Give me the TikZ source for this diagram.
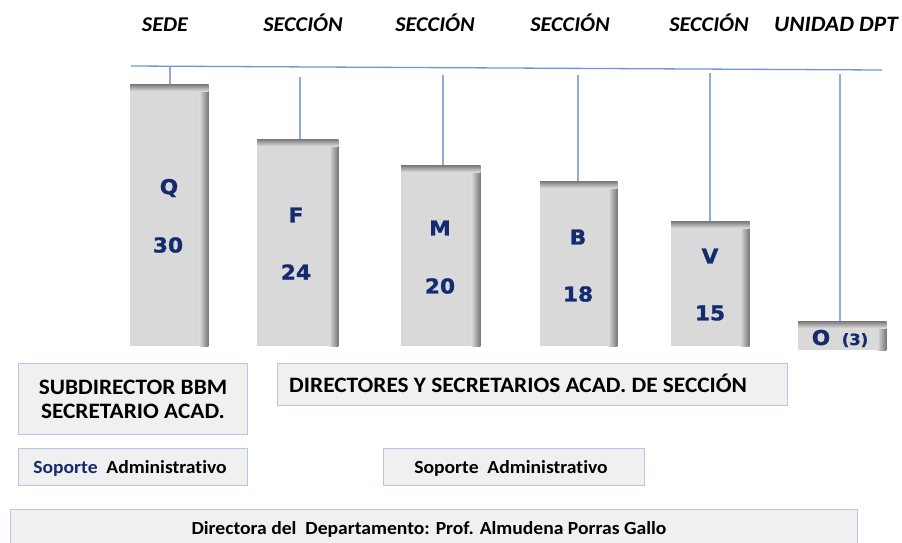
\documentclass[tikz,border=0pt]{standalone}
\usepackage{fontspec}
\setmainfont{Carlito}[Ligatures={NoCommon}, FakeStretch=1.06]
\newfontfamily\barfont{DejaVu Sans Bold}[FakeStretch=1.06, FakeBold=1.2]
\definecolor{navy}{HTML}{142C6E}
\definecolor{barfill}{HTML}{D9D9D9}
\definecolor{bardark}{HTML}{777777}
\definecolor{boxfill}{HTML}{F0F0F0}
\definecolor{boxline}{HTML}{B4C7E7}
\definecolor{linkblue}{HTML}{8FAADC}
\definecolor{mainline}{HTML}{7095D6}
\tikzset{
  barbox/.style={rectangle, fill=barfill, draw=none, inner sep=0pt, anchor=north west},
  bartext/.style={font=\barfont\fontsize{20.5}{24}\selectfont, text=navy, inner sep=0pt},
  toplabel/.style={font=\bfseries\itshape\fontsize{21}{25}\selectfont, inner sep=0pt, anchor=base},
  infobox/.style={rectangle, fill=boxfill, draw=boxline, line width=1pt, inner sep=0pt, anchor=north west},
  boxtext/.style={font=\bfseries\fontsize{22}{24}\selectfont, inner sep=0pt, align=center},
  smalltext/.style={font=\bfseries\fontsize{18.5}{22}\selectfont, inner sep=0pt},
  link/.style={draw=linkblue, line width=1.3pt},
}
\newcommand\shadebar[1]{%
  \shade[left color=barfill, right color=bardark] ([xshift=-9pt]#1.north east) rectangle (#1.south east);
  \shade[top color=bardark, bottom color=barfill] (#1.north west) rectangle ([yshift=-7pt]#1.north east);
}
\begin{document}
\begin{tikzpicture}[x=1pt,y=-1pt]
\useasboundingbox (0,0) rectangle (902,542);

% top labels
\node[toplabel] (lsede) at (165,31) {SEDE};
\node[toplabel] (ls1) at (303,31) {SECCIÓN};
\node[toplabel] (ls2) at (435,31) {SECCIÓN};
\node[toplabel] (ls3) at (570,31) {SECCIÓN};
\node[toplabel] (ls4) at (709,31) {SECCIÓN};
\node[toplabel, font=\bfseries\itshape\fontsize{22}{25}\selectfont] (lu) at (836,31) {UNIDAD DPT};

% bars
\node[barbox, minimum width=78pt, minimum height=262pt] (Q) at (130,84) {};
\node[barbox, minimum width=81pt, minimum height=207pt] (F) at (257,139) {};
\node[barbox, minimum width=79pt, minimum height=181pt] (M) at (401,165) {};
\node[barbox, minimum width=77pt, minimum height=165pt] (B) at (540,181) {};
\node[barbox, minimum width=78pt, minimum height=125pt] (V) at (671,221) {};
\node[barbox, minimum width=88pt, minimum height=29pt] (O) at (798,321) {};
\shadebar{Q}\shadebar{F}\shadebar{M}\shadebar{B}\shadebar{V}\shadebar{O}

% bar texts
\node[bartext] (qa) at (169,188) {Q};
\node[bartext] (qb) at (168,245) {30};
\node[bartext] (fa) at (296,215) {F};
\node[bartext] (fb) at (296,272) {24};
\node[bartext] (ma) at (440,228) {M};
\node[bartext] (mb) at (440,286) {20};
\node[bartext] (ba) at (578,237) {B};
\node[bartext] (bb) at (578,294) {18};
\node[bartext] (va) at (710,256) {V};
\node[bartext] (vb) at (710,313) {15};
\node[bartext, anchor=base] (oa) at (821,345) {O};
\node[bartext, anchor=base, font=\barfont\fontsize{15.5}{18}\selectfont] (ob) at (855,345) {(3)};

% connectors
\coordinate (hl) at (131,66);
\coordinate (hr) at (882,70);
\draw[draw=mainline, line width=1.3pt] (hl) -- (hr);
\coordinate (tq) at (170,67);
\coordinate (tf) at (300,77);
\coordinate (tm) at (443,75);
\coordinate (tb) at (578,75);
\coordinate (tv) at (710,73);
\coordinate (to) at (840,74);
\draw[link] (tq) -- (tq |- Q.north);
\draw[link] (tf) -- (tf |- F.north);
\draw[link] (tm) -- (tm |- M.north);
\draw[link] (tb) -- (tb |- B.north);
\draw[link] (tv) -- (tv |- V.north);
\draw[link] (to) -- (to |- O.north);

% info boxes
\node[infobox, minimum width=229pt, minimum height=71pt] (sub) at (18,363) {};
\node[boxtext] (subt) at (sub.center) {SUBDIRECTOR BBM\\SECRETARIO ACAD.};
\node[infobox, minimum width=510pt, minimum height=42pt] (dir) at (277,363) {};
\node[boxtext, anchor=base west] (dirt) at (289,392) {DIRECTORES Y SECRETARIOS ACAD. DE SECCIÓN};
\node[infobox, minimum width=229pt, minimum height=37pt] (sop1) at (18,448) {};
\node[smalltext, anchor=base] (sop1t) at (130,473) {\textcolor{navy}{Soporte}\ \ Administrativo};
\node[infobox, minimum width=261pt, minimum height=37pt] (sop2) at (383,448) {};
\node[smalltext, anchor=base] (sop2t) at (511,473) {Soporte\ \ Administrativo};
\node[infobox, minimum width=847pt, minimum height=40pt] (dra) at (10,509) {};
\node[smalltext, anchor=base] (drat) at (429,534) {Directora del\ \ Departamento: Prof. Almudena Porras Gallo};
\end{tikzpicture}
\end{document}
